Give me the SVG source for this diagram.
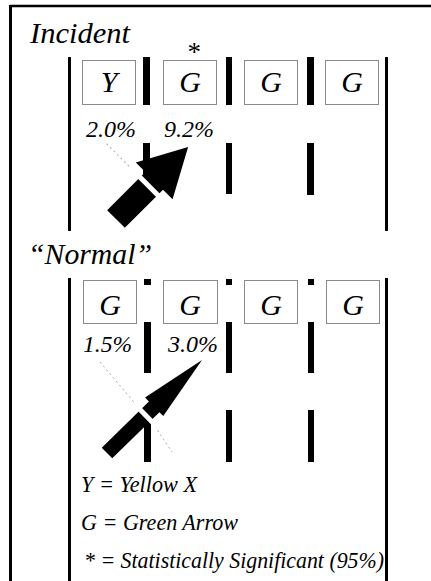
<svg xmlns="http://www.w3.org/2000/svg" width="431" height="581" viewBox="0 0 431 581">
<style>
.t{font-family:"Liberation Serif","Times New Roman",serif;font-style:italic;fill:#000}
.box{fill:#fff;stroke:#8a8a8a;stroke-width:1}
.edge{stroke:#000;stroke-width:3;fill:none}
.bar{fill:#000}
.gap{stroke:#fff;stroke-width:5}
.faint{stroke:#aaa;stroke-width:1;stroke-dasharray:2 3;fill:none}
</style>
<rect width="431" height="581" fill="#fff"/>
<g id="frame">
<line x1="10" y1="6" x2="431" y2="6" stroke="#000" stroke-width="2.5"/>
<line x1="10.5" y1="5" x2="10.5" y2="581" stroke="#000" stroke-width="3"/>
</g>

<g id="incident">
<text class="t" x="30" y="43" font-size="29" textLength="100" lengthAdjust="spacingAndGlyphs">Incident</text>
<line class="edge" x1="69.5" y1="57" x2="69.5" y2="231"/>
<line class="edge" x1="386.5" y1="57" x2="386.5" y2="231"/>
<rect class="bar" x="143" y="57" width="7" height="48"/>
<rect class="bar" x="226" y="57" width="6" height="48"/>
<rect class="bar" x="307" y="57" width="7" height="48"/>
<rect class="bar" x="143" y="143" width="7" height="36"/>
<rect class="bar" x="226" y="143" width="6" height="51"/>
<rect class="bar" x="307" y="143" width="7" height="52"/>
<g id="inc-sig1"><rect class="box" x="82.5" y="60.5" width="53" height="44"/><text class="t" x="109" y="92" font-size="30" text-anchor="middle">Y</text></g>
<g id="inc-sig2"><rect class="box" x="163.5" y="60.5" width="53" height="44"/><text class="t" x="190" y="92" font-size="30" text-anchor="middle">G</text></g>
<g id="inc-sig3"><rect class="box" x="244.5" y="60.5" width="53" height="44"/><text class="t" x="271" y="92" font-size="30" text-anchor="middle">G</text></g>
<g id="inc-sig4"><rect class="box" x="325.5" y="60.5" width="53" height="44"/><text class="t" x="352" y="92" font-size="30" text-anchor="middle">G</text></g>
<text class="t" x="193" y="61" font-size="27" text-anchor="middle">*</text>
<text class="t" x="86" y="137" font-size="23" textLength="50" lengthAdjust="spacingAndGlyphs">2.0%</text>
<text class="t" x="164" y="137" font-size="23" textLength="50" lengthAdjust="spacingAndGlyphs">9.2%</text>
<g id="inc-arrow" transform="translate(116,219) rotate(-45)">
<polygon points="0,-12.5 54,-12.5 54,-26 102,0 54,26 54,12.5 0,12.5" fill="#000"/>
<line class="faint" x1="46.5" y1="-60" x2="46.5" y2="-28"/>
<line class="gap" x1="46.5" y1="-28" x2="46.5" y2="28"/>
</g>
</g>

<g id="normal">
<text class="t" x="28" y="264" font-size="30" textLength="124" lengthAdjust="spacingAndGlyphs">“Normal”</text>
<line class="edge" x1="69.5" y1="278" x2="69.5" y2="581"/>
<line class="edge" x1="386.5" y1="278" x2="386.5" y2="581"/>
<rect class="bar" x="144" y="279" width="7" height="6"/>
<rect class="bar" x="226" y="279" width="6" height="6"/>
<rect class="bar" x="308" y="279" width="6" height="6"/>
<rect class="bar" x="144" y="322" width="7" height="51"/>
<rect class="bar" x="226" y="322" width="6" height="51"/>
<rect class="bar" x="308" y="322" width="6" height="51"/>
<rect class="bar" x="144" y="410" width="7" height="52"/>
<rect class="bar" x="226" y="410" width="6" height="52"/>
<rect class="bar" x="308" y="410" width="6" height="52"/>
<g id="nor-sig1"><rect class="box" x="83.5" y="280.5" width="53" height="43"/><text class="t" x="110" y="315" font-size="30" text-anchor="middle">G</text></g>
<g id="nor-sig2"><rect class="box" x="163.5" y="280.5" width="54" height="43"/><text class="t" x="190" y="315" font-size="30" text-anchor="middle">G</text></g>
<g id="nor-sig3"><rect class="box" x="244.5" y="280.5" width="53" height="43"/><text class="t" x="271" y="315" font-size="30" text-anchor="middle">G</text></g>
<g id="nor-sig4"><rect class="box" x="326.5" y="280.5" width="53" height="43"/><text class="t" x="353" y="315" font-size="30" text-anchor="middle">G</text></g>
<text class="t" x="83" y="352" font-size="23" textLength="49" lengthAdjust="spacingAndGlyphs">1.5%</text>
<text class="t" x="168" y="352" font-size="23" textLength="50" lengthAdjust="spacingAndGlyphs">3.0%</text>
<line class="faint" x1="100" y1="362" x2="138" y2="407"/>
<line class="faint" x1="152" y1="422" x2="172" y2="452"/>
<g id="nor-arrow" transform="translate(107,453) rotate(-44.4)">
<polygon points="0,-7.5 66,-7.5 66,-13 133,0 66,13 66,7.5 0,7.5" fill="#000"/>
<line class="gap" x1="54" y1="-16" x2="54" y2="16"/>
</g>
</g>

<g id="legend">
<text class="t" x="81" y="492" font-size="24" textLength="116" lengthAdjust="spacingAndGlyphs">Y = Yellow X</text>
<text class="t" x="81" y="530" font-size="24" textLength="157" lengthAdjust="spacingAndGlyphs">G = Green Arrow</text>
<text class="t" x="84" y="568" font-size="24" textLength="300" lengthAdjust="spacingAndGlyphs">* = Statistically Significant (95%)</text>
</g>
</svg>
